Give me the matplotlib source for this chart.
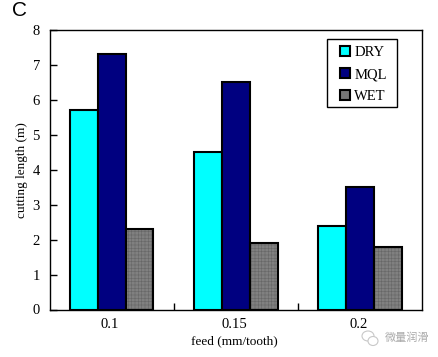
import numpy as np
import matplotlib
matplotlib.use('Agg')
import matplotlib.pyplot as plt
from matplotlib.patches import Patch, Ellipse, Rectangle

plt.rcParams['font.family'] = ['Liberation Serif', 'DejaVu Serif']
plt.rcParams['hatch.linewidth'] = 0.4

# 数据
feeds = ['0.1', '0.15', '0.2']
dry = [5.7, 4.5, 2.4]
mql = [7.3, 6.5, 3.5]
wet = [2.3, 1.9, 1.8]
yticks = [0, 1, 2, 3, 4, 5, 6, 7, 8]

W, H = 438, 357
fig = plt.figure(figsize=(W / 100, H / 100), dpi=100)
ax = fig.add_axes([49.5 / W, 1 - 309.5 / H, (422 - 49.5) / W, (309.5 - 30) / H])

x = np.arange(len(feeds))
w = 0.225
ax.bar(x - w, dry, w, color='#00ffff', edgecolor='black', linewidth=1.5)
ax.bar(x, mql, w, color='#000080', edgecolor='black', linewidth=1.5)
# WET 柱子带细网纹
ax.bar(x + w, wet, w, color='#808080', edgecolor='#666666', hatch='+++++', linewidth=0)
ax.bar(x + w, wet, w, fill=False, edgecolor='black', linewidth=1.5)

ax.set_xlim(-0.5, 2.5)
ax.set_ylim(0, 8)
ax.set_yticks(yticks)
ax.set_xticks([0.5, 1.5])
ax.set_xticklabels(['', ''])
ax.tick_params(axis='both', direction='in', length=5, width=1, labelsize=10.5, pad=6)
ax.tick_params(axis='y', pad=7)
for s in ax.spines.values():
    s.set_linewidth(1)

# 类别标签放在刻度之间
for i, f in enumerate(feeds):
    ax.text(i - 0.012, -0.42, f, ha='center', va='center', fontsize=10.5)

fig.text(234 / W, 1 - 341 / H, 'feed (mm/tooth)', fontsize=9.5, ha='center', va='center')
ax.set_ylabel('cutting length (m)', fontsize=9.5, labelpad=3)

# 图例：外框单独画，便于控制左右留白
fig.add_artist(Rectangle((327 / W, 1 - 107 / H), 70 / W, 68 / H, transform=fig.transFigure,
                         facecolor='white', edgecolor='black', linewidth=1, zorder=5))
handles = [Patch(facecolor='#00ffff', edgecolor='black', linewidth=1.5),
           Patch(facecolor='#000080', edgecolor='black', linewidth=1.5),
           Patch(facecolor='#777777', edgecolor='black', linewidth=1.5)]
leg = fig.legend(handles, ['DRY', 'MQL', 'WET'], loc='upper left',
                 bbox_to_anchor=(340 / W, 1 - 46 / H), bbox_transform=fig.transFigure,
                 fontsize=10.5, frameon=False,
                 handlelength=0.68, handleheight=0.68, handletextpad=0.3,
                 labelspacing=0.62, borderpad=0, borderaxespad=0)
leg.set_zorder(6)

fig.text(12 / W, 1 - 11 / H, 'C', fontsize=15, family='Liberation Sans', va='center', ha='left')

# 水印
for cx, cy, ew, eh in [(368, 336, 12, 10), (373, 341, 10, 9)]:
    fig.add_artist(Ellipse((cx / W, 1 - cy / H), ew / W, eh / H, transform=fig.transFigure,
                           facecolor='white', edgecolor='#c8c8c8', linewidth=0.8))
fig.text(385 / W, 1 - 338 / H, '微量润滑', fontsize=8, color='#aaaaaa',
         family=['Noto Sans CJK SC', 'DejaVu Sans'], va='center', ha='left')

plt.savefig('out.png', dpi=100)
plt.close()
